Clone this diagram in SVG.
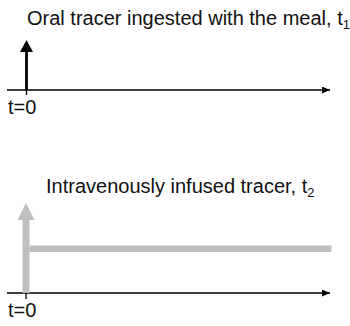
<svg xmlns="http://www.w3.org/2000/svg" width="350" height="326" viewBox="0 0 350 326">
<style>
text{font-family:"Liberation Sans",Arial,sans-serif;fill:#111;}
.t{font-size:20px;}
.s{font-size:13px;}
.ax{stroke:#000;stroke-width:1.3;fill:none;}
.tick{stroke:#000;stroke-width:1.3;}
</style>
<defs>
<marker id="ah" viewBox="0 0 8 7" refX="8" refY="3.5" markerWidth="8" markerHeight="7" markerUnits="userSpaceOnUse" orient="auto">
<path d="M0,0 L8,3.5 L0,7 Z" fill="#000"/>
</marker>
</defs>
<rect width="350" height="326" fill="#fff"/>
<g id="title-oral">
<text class="t" x="27" y="25">Oral tracer ingested with the meal, t<tspan class="s" dy="4">1</tspan></text>
</g>
<g id="label-t0-top">
<text class="t" x="8" y="114">t=0</text>
</g>
<g id="title-iv">
<text class="t" x="46" y="193">Intravenously infused tracer, t<tspan class="s" dy="4">2</tspan></text>
</g>
<g id="label-t0-bottom">
<text class="t" x="8" y="317">t=0</text>
</g>
<g id="connectors">
<line class="ax" x1="7" y1="90" x2="330" y2="90" marker-end="url(#ah)"/>
<line class="tick" x1="26.5" y1="90" x2="26.5" y2="95"/>
<line x1="26.5" y1="90" x2="26.5" y2="51" stroke="#000" stroke-width="2.8"/>
<path d="M20,52 L26.5,40 L33,52 Z" fill="#000"/>
<line class="ax" x1="7" y1="293" x2="330" y2="293" marker-end="url(#ah)"/>
<line class="tick" x1="26" y1="293" x2="26" y2="299"/>
<rect x="22.5" y="219" width="7" height="74" fill="#bfbfbf"/>
<path d="M17.5,220 L26,203 L34.5,220 Z" fill="#bfbfbf"/>
<rect x="29.5" y="245.5" width="302" height="6.5" fill="#bfbfbf"/>
</g>
</svg>
